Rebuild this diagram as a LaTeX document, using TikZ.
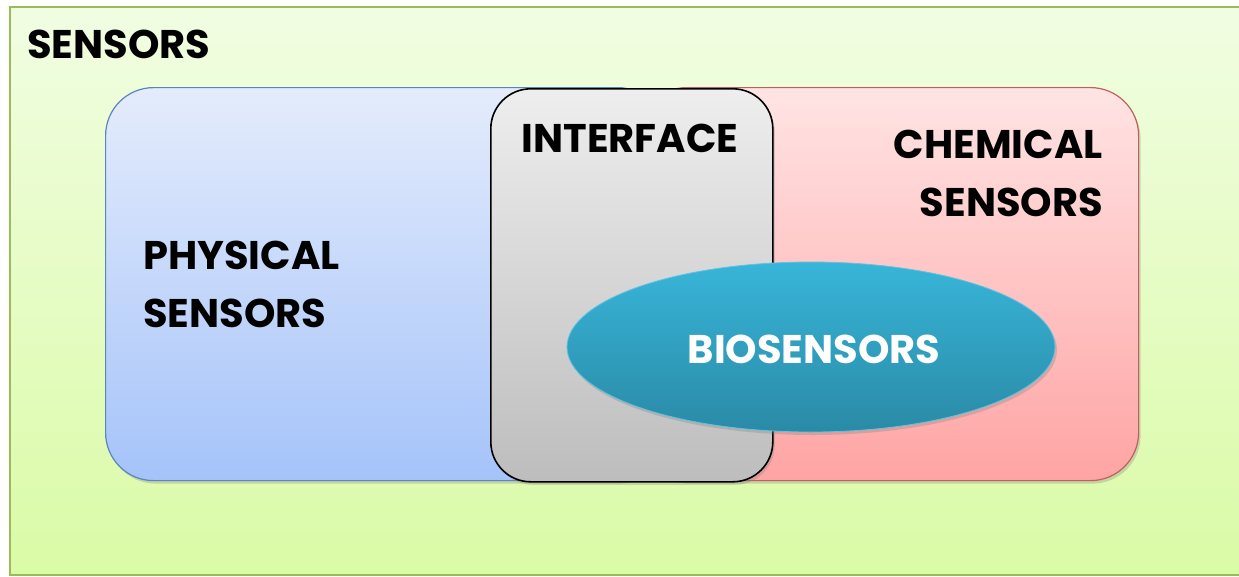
\documentclass[tikz,border=0pt]{standalone}
\usepackage{fontspec}
\setmainfont{Poppins}
\usetikzlibrary{shapes.geometric,shadows}
\definecolor{gtop}{HTML}{F1FDE2}
\definecolor{gbot}{HTML}{DAFBA6}
\definecolor{gline}{HTML}{9BBB59}
\definecolor{btop}{HTML}{E4ECFB}
\definecolor{bbot}{HTML}{A5C3FA}
\definecolor{bline}{HTML}{5B84C0}
\definecolor{rtop}{HTML}{FFE4E4}
\definecolor{rbot}{HTML}{FFA4A4}
\definecolor{rline}{HTML}{C0605D}
\definecolor{itop}{HTML}{EEEEEE}
\definecolor{ibot}{HTML}{BDBDBD}
\definecolor{etop}{HTML}{38B5D9}
\definecolor{ebot}{HTML}{2A8AA6}
\tikzset{
  box/.style={rectangle, rounded corners=48pt, anchor=north west, inner sep=0pt, line width=1.2pt,
    drop shadow={shadow xshift=2pt, shadow yshift=-3pt, opacity=0.3}},
  lbl/.style={font=\bfseries\fontsize{40}{58}\selectfont, inner sep=0pt, text=black},
}
\begin{document}
\begin{tikzpicture}[x=1pt,y=-1pt]
\useasboundingbox (0,0) rectangle (1239,576);
\fill[white] (0,0) rectangle (1239,576);
\begin{scope}
\clip (0,0) rectangle (1239,576);
\node[rectangle, anchor=north west, minimum width=1240pt, minimum height=568pt, inner sep=0pt,
  top color=gtop, bottom color=gbot] (outer) at (10,7) {};
\draw[gline, line width=2pt] (outer.north east) -- (outer.north west) -- (outer.south west) -- (outer.south east);
\end{scope}
\node[anchor=west, lbl] (sensors) at (27,44) {SENSORS};
\node[box, draw=bline, top color=btop, bottom color=bbot, minimum width=560pt, minimum height=393pt] (phys) at (105,87) {};
\node[box, draw=rline, top color=rtop, bottom color=rbot, minimum width=500pt, minimum height=393pt] (chem) at (638,87) {};
\node[box, rounded corners=40pt, draw=black, line width=1.6pt, top color=itop, bottom color=ibot, minimum width=282pt, minimum height=393pt] (intf) at (490,88) {};
\node[ellipse, draw=etop!80!white, line width=0.8pt, top color=etop, bottom color=ebot, minimum width=488pt, minimum height=170pt, inner sep=0pt,
  drop shadow={shadow xshift=2pt, shadow yshift=-3pt, opacity=0.3}] (bio) at (811,347) {};
\node[lbl] (intfl) at (630,138) {INTERFACE};
\node[lbl, align=right, anchor=north east] (cheml) at (1103,130) {CHEMICAL\\SENSORS};
\node[lbl, align=left, anchor=north west] (physl) at (143,241) {PHYSICAL\\SENSORS};
\node[lbl, text=white] (biol) at (814,349) {BIOSENSORS};
\end{tikzpicture}
\end{document}
